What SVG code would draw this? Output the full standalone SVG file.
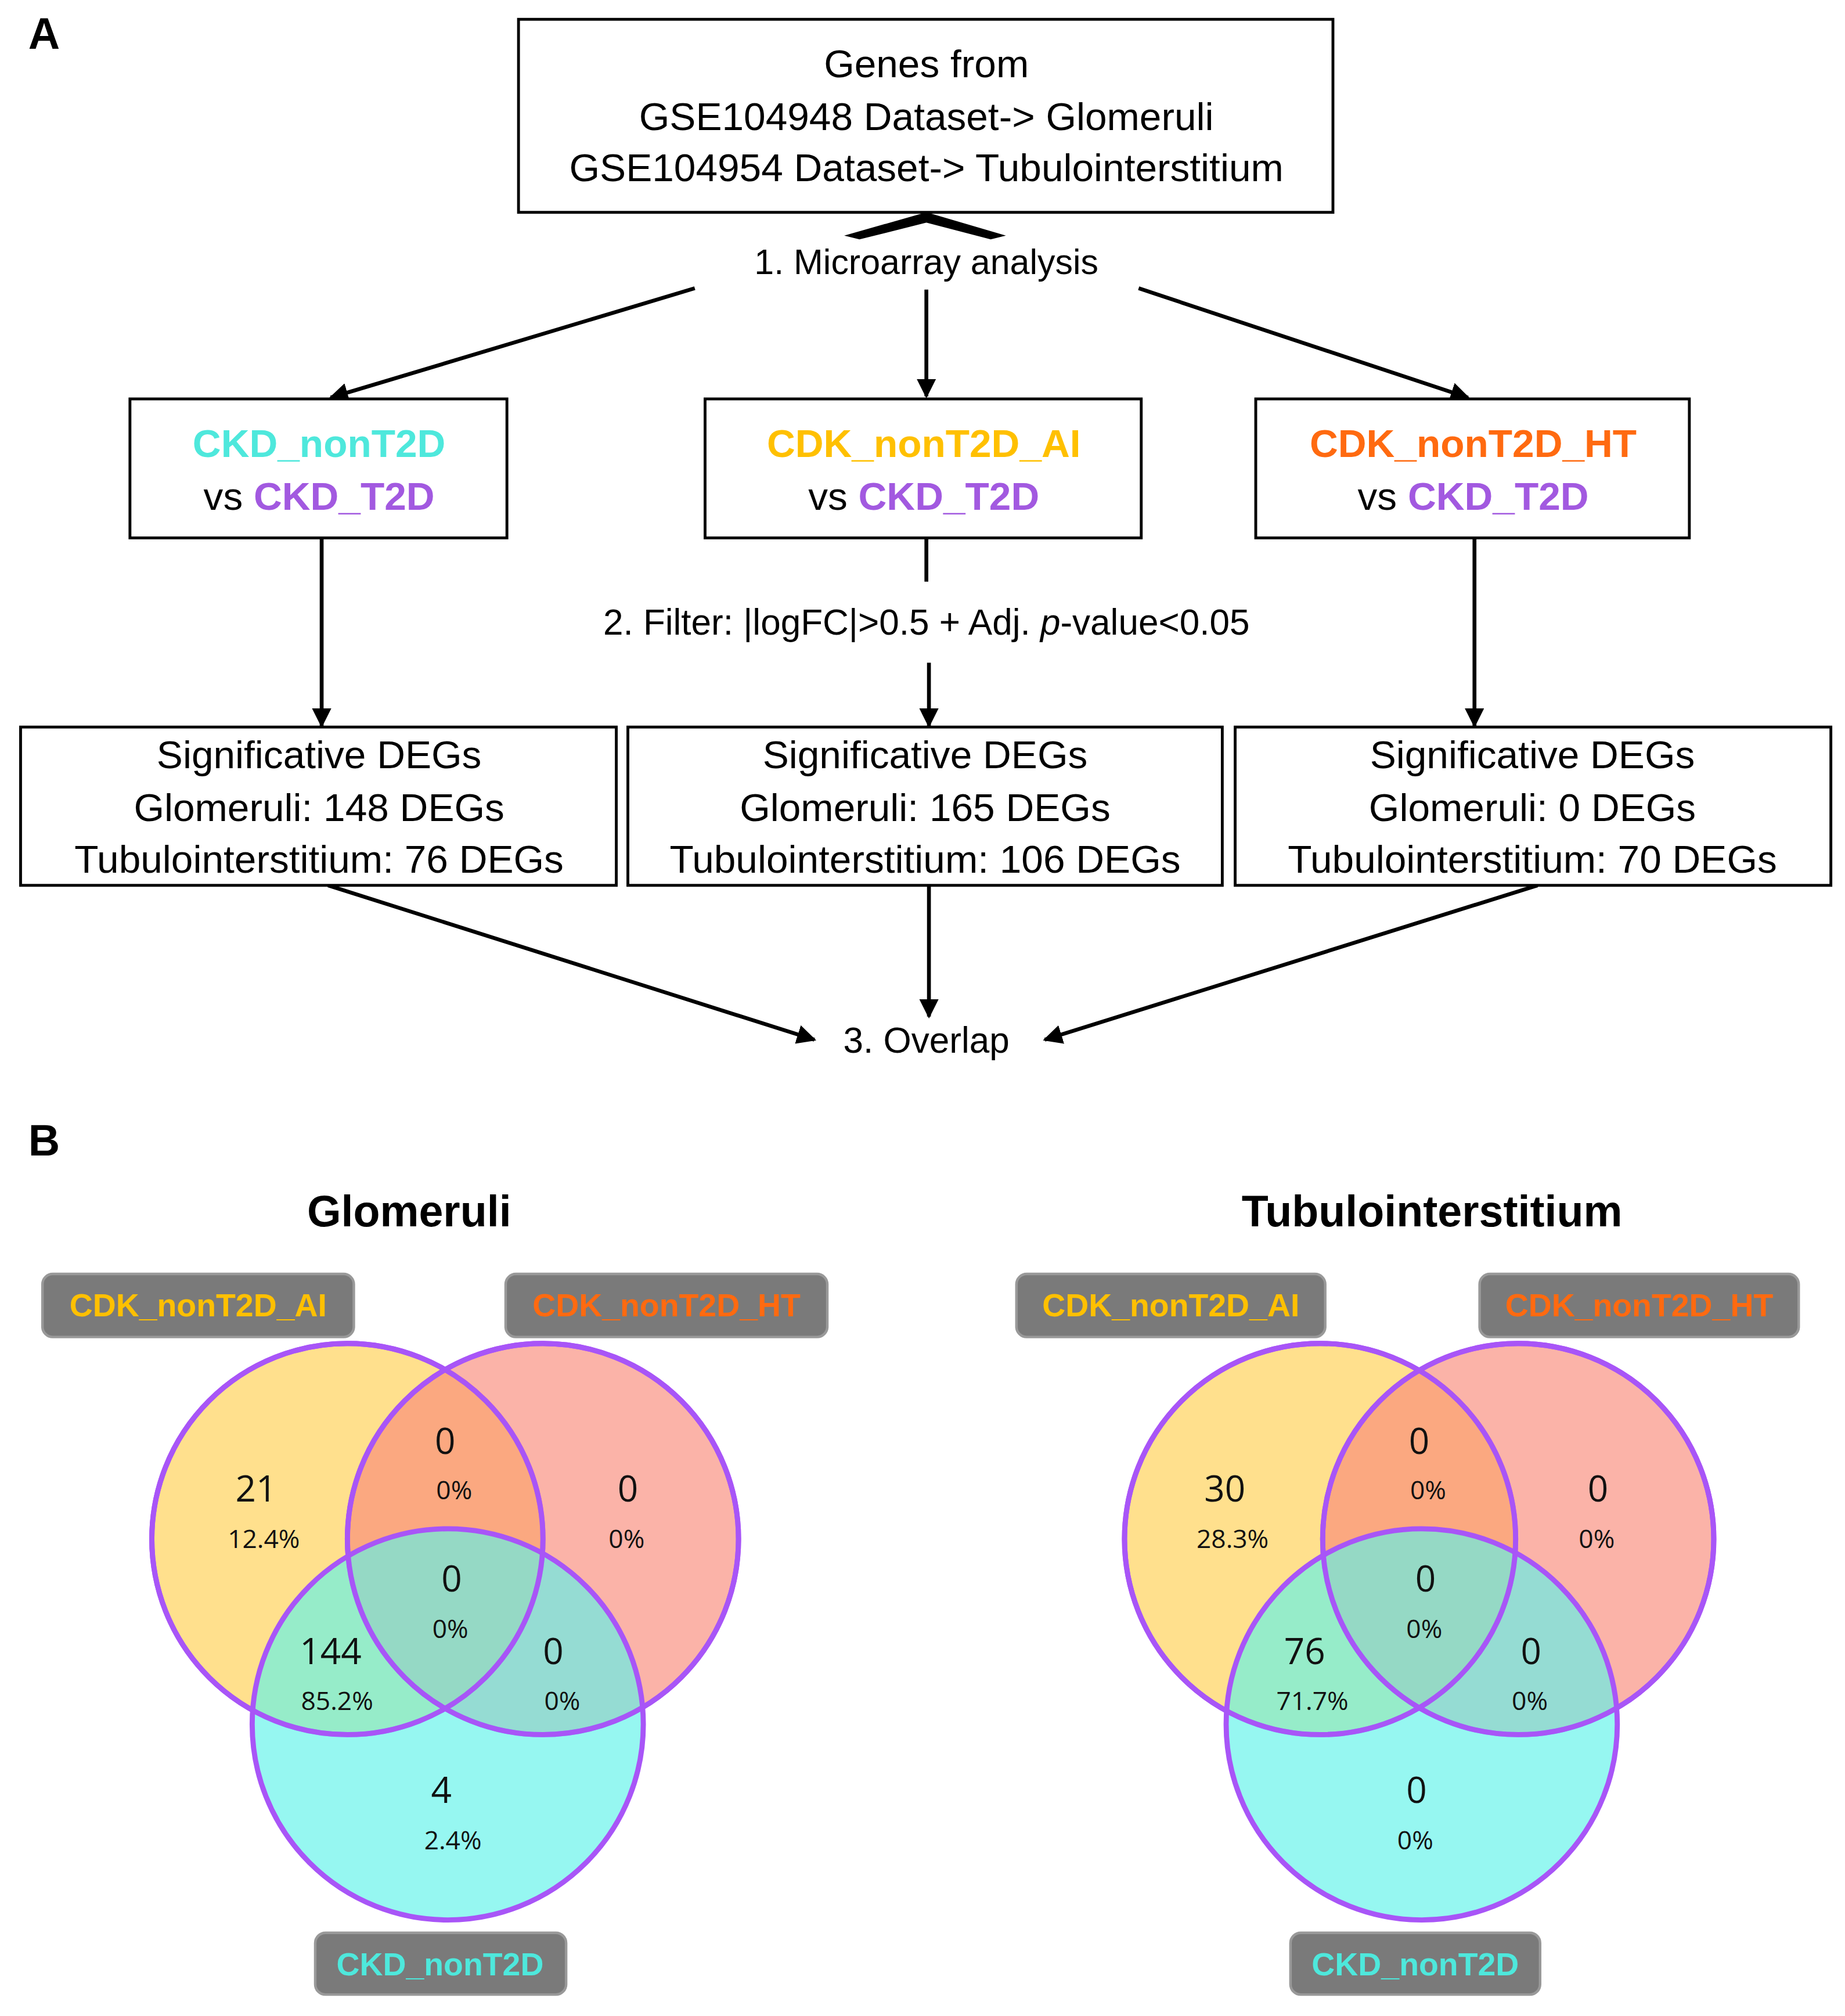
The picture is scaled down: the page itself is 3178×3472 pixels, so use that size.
<svg xmlns="http://www.w3.org/2000/svg" width="3178" height="3472" viewBox="0 0 3178 3472">
<defs>
<marker id="ah" viewBox="0 0 10 10" refX="9" refY="5" markerWidth="5" markerHeight="5" orient="auto"><path d="M0,0 L10,5 L0,10 z" fill="#000"/></marker>
<style>
.t{font-family:"Liberation Sans",Arial,sans-serif;font-size:30.5px;fill:#000;text-anchor:middle}
.b{font-weight:bold}
.box{fill:#fff;stroke:#000;stroke-width:2.2}
.ln{stroke:#000;stroke-width:3;fill:none}
.ar{stroke:#000;stroke-width:3;fill:none;marker-end:url(#ah)}
.lab{fill:#7a7a7a;stroke:#999;stroke-width:2}
.lt{font-family:"Liberation Sans",Arial,sans-serif;font-size:25px;font-weight:bold;text-anchor:middle}
.c{stroke:#a855f7;stroke-width:4;fill-opacity:0.65}
.n{font-family:"Open Sans","Liberation Sans",sans-serif;font-size:28px;text-anchor:middle;fill:#111}
.p{font-family:"Open Sans","Liberation Sans",sans-serif;font-size:20px;text-anchor:middle;fill:#111}
.cy{fill:#4ee8dc}.ye{fill:#ffc000}.or{fill:#ff6a10}.pu{fill:#a259e0}
</style>
</defs>
<rect width="3178" height="3472" fill="#fff"/>
<g transform="scale(2.2162)">
<text x="22" y="38" class="t b" style="font-size:34px;text-anchor:start">A</text>
<text x="22" y="898" class="t b" style="font-size:34px;text-anchor:start">B</text>
<g id="connectors">
<path d="M660,183 L720,166 L778,183 L770,185 L720,172 L668,185 z" fill="#000" stroke="#000" stroke-width="2"/>
<path class="ar" d="M540,224 L257,309"/>
<path class="ar" d="M720,225 L720,308"/>
<path class="ar" d="M885,224 L1141,309"/>
<path class="ar" d="M250,418 L250,564"/>
<path class="ln" d="M720,418 L720,452"/>
<path class="ar" d="M722,515 L722,564"/>
<path class="ar" d="M1146,418 L1146,564"/>
<path class="ar" d="M255,688 L633,808"/>
<path class="ar" d="M722,688 L722,790"/>
<path class="ar" d="M1195,688 L812,808"/>
</g>
<g id="top"><rect class="box" x="403" y="15" width="633" height="150"/>
<text class="t" x="720" y="60">Genes from</text>
<text class="t" x="720" y="101">GSE104948 Dataset-&gt; Glomeruli</text>
<text class="t" x="720" y="141">GSE104954 Dataset-&gt; Tubulointerstitium</text></g>
<text id="step1" class="t" x="720" y="213" style="font-size:27.5px">1. Microarray analysis</text>
<g id="c1"><rect class="box" x="101" y="310" width="293" height="108"/>
<text class="t b cy" x="248" y="355">CKD_nonT2D</text>
<text class="t" x="248" y="396">vs <tspan class="b pu">CKD_T2D</tspan></text></g>
<g id="c2"><rect class="box" x="548" y="310" width="339" height="108"/>
<text class="t b ye" x="718" y="355">CDK_nonT2D_AI</text>
<text class="t" x="718" y="396">vs <tspan class="b pu">CKD_T2D</tspan></text></g>
<g id="c3"><rect class="box" x="976" y="310" width="337" height="108"/>
<text class="t b or" x="1145" y="355">CDK_nonT2D_HT</text>
<text class="t" x="1145" y="396">vs <tspan class="b pu">CKD_T2D</tspan></text></g>
<text id="step2" class="t" x="720" y="493" style="font-size:28px">2. Filter: |logFC|&gt;0.5 + Adj. <tspan font-style="italic">p</tspan>-value&lt;0.05</text>
<g id="d1"><rect class="box" x="16" y="565" width="463" height="123"/>
<text class="t" x="248" y="597">Significative DEGs</text><text class="t" x="248" y="638">Glomeruli:  148 DEGs</text><text class="t" x="248" y="678">Tubulointerstitium:  76 DEGs</text></g>
<g id="d2"><rect class="box" x="488" y="565" width="462" height="123"/>
<text class="t" x="719" y="597">Significative DEGs</text><text class="t" x="719" y="638">Glomeruli:  165 DEGs</text><text class="t" x="719" y="678">Tubulointerstitium:  106 DEGs</text></g>
<g id="d3"><rect class="box" x="960" y="565" width="463" height="123"/>
<text class="t" x="1191" y="597">Significative DEGs</text><text class="t" x="1191" y="638">Glomeruli:  0 DEGs</text><text class="t" x="1191" y="678">Tubulointerstitium:  70 DEGs</text></g>
<text id="step3" class="t" x="720" y="818" style="font-size:28px">3. Overlap</text>
<text class="t b" x="318" y="953" style="font-size:34px">Glomeruli</text>
<text class="t b" x="1113" y="953" style="font-size:34px">Tubulointerstitium</text>
<g id="venn1">
<circle class="c" cx="270" cy="1196" r="152" fill="#ffd050"/>
<circle class="c" cx="422" cy="1196" r="152" fill="#f98a7a"/>
<circle class="c" cx="348" cy="1340" r="152" fill="#5ef2ea"/>
<circle cx="270" cy="1196" r="152" fill="none" stroke="#a855f7" stroke-width="4"/>
<circle cx="422" cy="1196" r="152" fill="none" stroke="#a855f7" stroke-width="4"/>
<text class="n" x="199" y="1167">21</text><text class="p" x="205" y="1203">12.4%</text>
<text class="n" x="346" y="1130">0</text><text class="p" x="353" y="1165">0%</text>
<text class="n" x="488" y="1167">0</text><text class="p" x="487" y="1203">0%</text>
<text class="n" x="351" y="1237">0</text><text class="p" x="350" y="1273">0%</text>
<text class="n" x="257" y="1293">144</text><text class="p" x="262" y="1329">85.2%</text>
<text class="n" x="430" y="1293">0</text><text class="p" x="437" y="1329">0%</text>
<text class="n" x="343" y="1401">4</text><text class="p" x="352" y="1437">2.4%</text>
<rect class="lab" x="33" y="990" width="242" height="49" rx="8"/><text class="lt ye" x="154" y="1023">CDK_nonT2D_AI</text>
<rect class="lab" x="393" y="990" width="250" height="49" rx="8"/><text class="lt or" x="518" y="1023">CDK_nonT2D_HT</text>
<rect class="lab" x="245" y="1502" width="195" height="48" rx="8"/><text class="lt cy" x="342" y="1535">CKD_nonT2D</text>
</g>
<g id="venn2">
<circle class="c" cx="1026" cy="1196" r="152" fill="#ffd050"/>
<circle class="c" cx="1180" cy="1196" r="152" fill="#f98a7a"/>
<circle class="c" cx="1105" cy="1340" r="152" fill="#5ef2ea"/>
<circle cx="1026" cy="1196" r="152" fill="none" stroke="#a855f7" stroke-width="4"/>
<circle cx="1180" cy="1196" r="152" fill="none" stroke="#a855f7" stroke-width="4"/>
<text class="n" x="952" y="1167">30</text><text class="p" x="958" y="1203">28.3%</text>
<text class="n" x="1103" y="1130">0</text><text class="p" x="1110" y="1165">0%</text>
<text class="n" x="1242" y="1167">0</text><text class="p" x="1241" y="1203">0%</text>
<text class="n" x="1108" y="1237">0</text><text class="p" x="1107" y="1273">0%</text>
<text class="n" x="1014" y="1293">76</text><text class="p" x="1020" y="1329">71.7%</text>
<text class="n" x="1190" y="1293">0</text><text class="p" x="1189" y="1329">0%</text>
<text class="n" x="1101" y="1401">0</text><text class="p" x="1100" y="1437">0%</text>
<rect class="lab" x="790" y="990" width="240" height="49" rx="8"/><text class="lt ye" x="910" y="1023">CDK_nonT2D_AI</text>
<rect class="lab" x="1150" y="990" width="248" height="49" rx="8"/><text class="lt or" x="1274" y="1023">CDK_nonT2D_HT</text>
<rect class="lab" x="1003" y="1502" width="194" height="48" rx="8"/><text class="lt cy" x="1100" y="1535">CKD_nonT2D</text>
</g>
</g>
</svg>
